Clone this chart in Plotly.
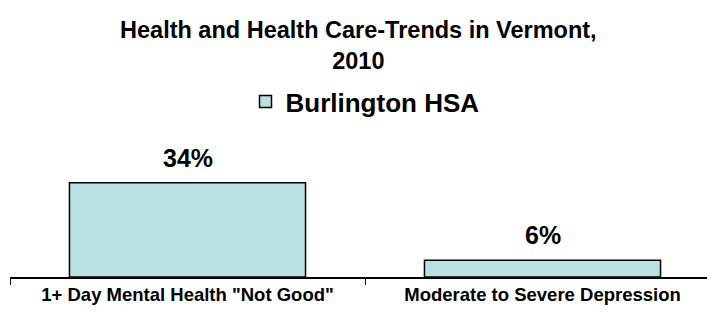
import plotly.graph_objects as go

categories = ['1+ Day Mental Health "Not Good"', 'Moderate to Severe Depression']
values = [34, 6]
series_name = "Burlington HSA"
title_text = "Health and Health Care-Trends in Vermont,<br>2010"

FONT = "Liberation Sans, Arial"
fig = go.Figure()
fig.add_trace(go.Bar(
    x=categories, y=values, name="<b>" + series_name + "</b>",
    marker=dict(color="#B9E0E2", line=dict(color="black", width=1.5)),
    width=0.665, cliponaxis=False, showlegend=True,
))
for c, v in zip(categories, values):
    fig.add_annotation(x=c, y=v, text="<b>%d%%</b>" % v, showarrow=False,
                       yanchor="bottom", yshift=9,
                       font=dict(family=FONT, size=25, color="black"))
fig.update_layout(
    width=715, height=315,
    margin=dict(l=2, r=3, t=132, b=46),
    paper_bgcolor="white", plot_bgcolor="white",
    font=dict(family=FONT, color="black"),
    title=dict(text="<b>" + title_text + "</b>",
               x=0.49, xanchor="center", y=1 - 30/315, yanchor="top", yref="container",
               font=dict(size=23.5, color="black")),
    legend=dict(orientation="h", x=0.5, xanchor="center", y=1.28, yanchor="middle",
                font=dict(size=26, color="black"), itemwidth=30),
    xaxis=dict(showline=True, linecolor="black", linewidth=1.5, ticks="outside",
               tickson="boundaries", ticklen=6, tickcolor="black",
               tickfont=dict(size=18.5, color="black"), showgrid=False,
               tickprefix="<b>", ticksuffix="</b>"),
    yaxis=dict(range=[0, 49.4], visible=False, showgrid=False),
)
fig.write_html("out.html")
